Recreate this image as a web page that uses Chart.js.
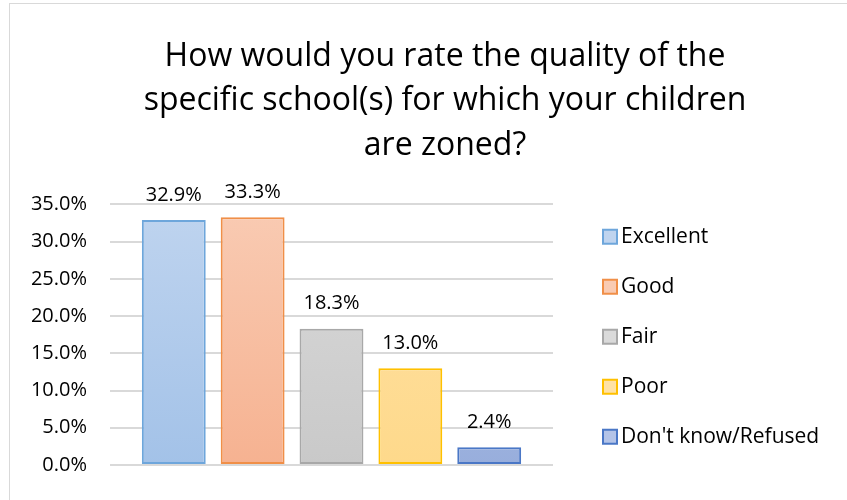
<!DOCTYPE html>
<html>
<head>
<meta charset="utf-8">
<script src="https://cdn.jsdelivr.net/npm/chart.js@4.4.0/dist/chart.umd.min.js"></script>
<style>
  html, body { margin: 0; padding: 0; background: #fff; }
  #wrap { position: relative; width: 847px; height: 500px; overflow: hidden; }
  #frame { position: absolute; left: 9px; top: 3px; width: 850px; height: 510px; border: 1px solid #d9d9d9; }
  canvas { position: absolute; left: 0; top: 0; }
</style>
</head>
<body>
<div id="wrap">
  <div id="frame"></div>
  <canvas id="chart" width="847" height="500"></canvas>
</div>
<script>
const categories = ['Excellent', 'Good', 'Fair', 'Poor', "Don't know/Refused"];
const shares = [32.9, 33.3, 18.3, 13.0, 2.4];
const tickValues = [0, 5, 10, 15, 20, 25, 30, 35];

const fillTop = ['#bfd4ef', '#f9cbb3', '#dadada', '#ffe2a6', '#b4c4e8'];
const fillBottom = ['#a3c2e8', '#f6b291', '#c9c9c9', '#fed98b', '#98aedc'];
const borders = ['#6ea6db', '#f08f48', '#a8a8a8', '#ffc000', '#4a77c6'];

const FONT = '"Open Sans", sans-serif';
Chart.defaults.font.family = FONT;
Chart.defaults.color = '#000';

// gradiente vertical em cada barra
function barFill(i) {
  return function (ctx) {
    const chart = ctx.chart;
    const area = chart.chartArea;
    if (!area) return fillTop[i];
    const el = chart.getDatasetMeta(i).data[0];
    const top = el && isFinite(el.y) ? el.y : area.top;
    const g = chart.ctx.createLinearGradient(0, top, 0, area.bottom);
    g.addColorStop(0, fillTop[i]);
    g.addColorStop(1, fillBottom[i]);
    return g;
  };
}

// rótulos de valor acima das barras
const valueLabels = {
  id: 'valueLabels',
  afterDatasetsDraw(chart) {
    const c = chart.ctx;
    c.save();
    c.font = '20px ' + FONT;
    c.fillStyle = '#000';
    c.textAlign = 'center';
    c.textBaseline = 'bottom';
    chart.data.datasets.forEach((ds, i) => {
      const bar = chart.getDatasetMeta(i).data[0];
      c.fillText(ds.data[0].toFixed(1) + '%', bar.x, bar.y - 15);
    });
    c.restore();
  }
};

// legenda à direita, estilo Excel
const sideLegend = {
  id: 'sideLegend',
  afterDraw(chart) {
    const c = chart.ctx;
    const area = chart.chartArea;
    const step = 50;
    const x = area.right + 50;
    const mid = (area.top + area.bottom) / 2 + 2;
    c.save();
    c.font = '21px ' + FONT;
    c.textBaseline = 'middle';
    c.textAlign = 'left';
    categories.forEach((name, i) => {
      const y = mid + (i - 2) * step;
      c.fillStyle = fillTop[i];
      c.fillRect(x, y - 7, 14, 14);
      c.strokeStyle = borders[i];
      c.lineWidth = 2;
      c.strokeRect(x, y - 7, 14, 14);
      c.fillStyle = '#000';
      c.fillText(name, x + 18, y);
    });
    c.restore();
  }
};

new Chart(document.getElementById('chart'), {
  type: 'bar',
  data: {
    labels: [''],
    datasets: categories.map((name, i) => ({
      label: name,
      data: [shares[i]],
      backgroundColor: barFill(i),
      borderColor: borders[i],
      borderWidth: 2,
      borderSkipped: false,
      barPercentage: 0.81,
      categoryPercentage: 0.89
    }))
  },
  options: {
    responsive: false,
    animation: false,
    layout: { padding: { left: 27, right: -16, top: 35, bottom: 30 } },
    plugins: {
      title: {
        display: true,
        text: ['How would you rate the quality of the', 'specific school(s) for which your children', 'are zoned?'],
        font: { size: 32, weight: 'normal', lineHeight: 1.38 },
        color: '#000',
        padding: { top: 0, bottom: 37 }
      },
      legend: { display: false },
      tooltip: { enabled: false }
    },
    scales: {
      x: {
        grid: { display: false, drawTicks: false },
        border: { display: false },
        ticks: { display: false }
      },
      y: {
        min: 0,
        max: 35,
        afterBuildTicks(scale) { scale.ticks = tickValues.map(v => ({ value: v })); },
        afterFit(scale) { scale.width = 83; },
        grid: { color: '#d9d9d9', lineWidth: 2, drawTicks: false },
        border: { display: false },
        ticks: {
          padding: 23,
          font: { size: 20 },
          color: '#000',
          callback: v => v.toFixed(1) + '%'
        }
      },
      side: {
        position: 'right',
        grid: { display: false, drawTicks: false },
        border: { display: false },
        ticks: { display: false },
        afterFit(scale) { scale.width = 310; }
      }
    }
  },
  plugins: [valueLabels, sideLegend]
});
</script>
</body>
</html>
